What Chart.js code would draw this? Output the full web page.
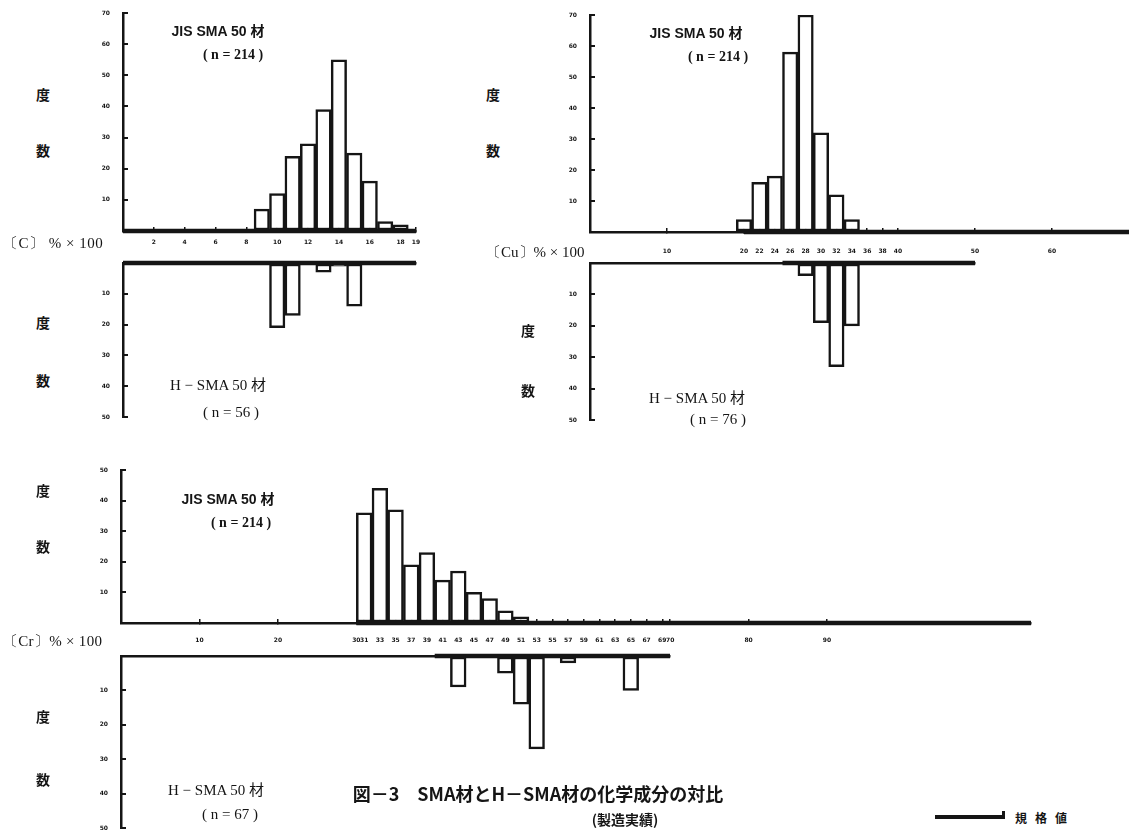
<!DOCTYPE html>
<html>
<head>
<meta charset="utf-8">
<script src="https://cdn.jsdelivr.net/npm/chart.js@4.4.0/dist/chart.umd.min.js"></script>
<style>
  html, body { margin: 0; padding: 0; background: #fff; overflow: hidden; }
  body { width: 1129px; height: 830px; position: relative; color: #151515; }
  canvas { position: absolute; }
  .t { position: absolute; white-space: nowrap; line-height: 1; transform: translate(-50%, -50%); }
  .l { position: absolute; white-space: nowrap; line-height: 1; transform: translate(0, -50%); }
  .jp { font-family: "Noto Sans CJK JP", sans-serif; font-weight: 700; }
  .sf { font-family: "Liberation Serif", serif; }
  .ss { font-family: "Liberation Sans", sans-serif; font-weight: 700; }
</style>
</head>
<body>
<canvas id="cUp"></canvas>
<canvas id="cDown"></canvas>
<canvas id="cuUp"></canvas>
<canvas id="cuDown"></canvas>
<canvas id="crUp"></canvas>
<canvas id="crDown"></canvas>

<script>
// [C] % x 100 : bins are 1 unit wide
const cBins = [9, 10, 11, 12, 13, 14, 15, 16, 17, 18];
const cJis  = [7, 12, 24, 28, 39, 55, 25, 16, 3, 2];   // JIS SMA 50 (n = 214)
const cHsma = [0, 21, 17, 0, 3, 1, 14, 0, 0, 0];       // H-SMA 50 (n = 56)
const cTicks = [2, 4, 6, 8, 10, 12, 14, 16, 18, 19];
const cSpecJis = [0, 19];
const cSpecH = [0, 19];

// [Cu] % x 100 : bins are 2 units wide
const cuBins = [20, 22, 24, 26, 28, 30, 32, 34];
const cuJis  = [4, 16, 18, 58, 70, 32, 12, 4];
const cuHsma = [0, 0, 0, 0, 4, 19, 33, 20];            // n = 76
const cuTicks = [10, 20, 22, 24, 26, 28, 30, 32, 34, 36, 38, 40, 50, 60];
const cuSpecJis = [20, 70];
const cuSpecH = [25, 50];

// [Cr] % x 100 : bins are 2 units wide
const crBins = [31, 33, 35, 37, 39, 41, 43, 45, 47, 49, 51, 53, 55, 57, 59, 61, 63, 65, 67, 69];
const crJis  = [36, 44, 37, 19, 23, 14, 17, 10, 8, 4, 2, 0, 0, 0, 0, 0, 0, 0, 0, 0];
const crHsma = [0, 0, 0, 0, 0, 0, 9, 0, 0, 5, 14, 27, 0, 2, 0, 0, 0, 10, 0, 0];  // n = 67
const crTicks = [10, 20, 30, 31, 33, 35, 37, 39, 41, 43, 45, 47, 49, 51, 53, 55, 57, 59,
                 61, 63, 65, 67, 69, 70, 80, 90];
const crSpecJis = [30, 116];
const crSpecH = [40, 70];

const ink = '#151515';
const tickFont = { family: 'DejaVu Sans', size: 6, weight: 'bold' };

// one histogram half; g = where the axes sit on the page
function hist(id, g, o) {
  const up = !o.down;
  // generous padding so Chart.js never has to shrink the plot for label overflow
  const yW = 34, padL = 2, padR = 30, padT = 26, padB = 26, xH = 30;
  const w = padL + yW + (g.right - g.axis) + padR;
  const h = up ? padT + (g.base - g.top) + xH : padT + (g.bottom - g.base) + padB;
  const cv = document.getElementById(id);
  cv.width = w; cv.height = h;
  cv.style.width = w + 'px'; cv.style.height = h + 'px';
  cv.style.left = (g.axis - yW - padL) + 'px';
  cv.style.top = ((up ? g.top : g.base) - padT) + 'px';

  return new Chart(cv, {
    type: 'bar',
    data: {
      datasets: [
        {
          type: 'line',
          data: o.spec.map(x => ({ x, y: 0 })),
          borderColor: ink,
          borderWidth: 4.5,
          pointRadius: 0,
          clip: false,
          order: 0
        },
        {
          type: 'bar',
          data: o.bins.map((x, i) => ({ x, y: o.counts[i] })),
          backgroundColor: '#fff',
          borderColor: ink,
          borderWidth: 2.5,
          borderSkipped: false,
          barThickness: 'flex',
          barPercentage: 1,
          categoryPercentage: 1,
          order: 1
        }
      ]
    },
    options: {
      responsive: false,
      animation: false,
      events: [],
      layout: { padding: { left: padL, right: padR, top: padT, bottom: up ? 0 : padB } },
      plugins: { legend: { display: false }, tooltip: { enabled: false } },
      scales: {
        x: {
          type: 'linear',
          position: up ? 'bottom' : 'top',
          offset: false,
          min: 0,
          max: o.xMax,
          // short tick marks pointing up into the plot
          grid: { display: up, drawOnChartArea: false, drawTicks: true, tickLength: -4,
                  offset: false, color: ink, lineWidth: 1.5 },
          border: { display: true, color: ink, width: 2.5 },
          ticks: {
            display: up,
            autoSkip: false,
            maxRotation: 0,
            padding: (o.lblPad || 0) + 4,
            color: ink,
            font: tickFont
          },
          afterBuildTicks: s => { s.ticks = (o.ticks || []).map(v => ({ value: v })); },
          afterFit: s => { s.height = up ? xH : 0; }
        },
        y: {
          min: 0,
          max: o.yMax,
          reverse: !up,
          // tick marks pointing right, into the plot
          grid: { drawOnChartArea: false, tickLength: -5, color: ink, lineWidth: 2 },
          border: { color: ink, width: 2.5 },
          ticks: {
            stepSize: 10,
            padding: 18,
            color: ink,
            font: tickFont,
            callback: v => (v === 0 ? '' : v)
          },
          afterFit: s => { s.width = yW; }
        }
      }
    }
  });
}

hist('cUp',   { axis: 123, right: 416, top: 13, base: 231 },
     { bins: cBins, counts: cJis, spec: cSpecJis, ticks: cTicks, xMax: 19, yMax: 70, lblPad: 8 });
hist('cDown', { axis: 123, right: 416, base: 263, bottom: 417 },
     { bins: cBins, counts: cHsma, spec: cSpecH, xMax: 19, yMax: 50, down: true });

hist('cuUp',   { axis: 590, right: 1129, top: 15, base: 232 },
     { bins: cuBins, counts: cuJis, spec: cuSpecJis, ticks: cuTicks, xMax: 70, yMax: 70, lblPad: 16 });
hist('cuDown', { axis: 590, right: 975, base: 263, bottom: 420 },
     { bins: cuBins, counts: cuHsma, spec: cuSpecH, xMax: 50, yMax: 50, down: true });

hist('crUp',   { axis: 121, right: 1031, top: 470, base: 623 },
     { bins: crBins, counts: crJis, spec: crSpecJis, ticks: crTicks, xMax: 116, yMax: 50, lblPad: 14 });
hist('crDown', { axis: 121, right: 670, base: 656, bottom: 828 },
     { bins: crBins, counts: crHsma, spec: crSpecH, xMax: 70, yMax: 50, down: true });
</script>

<!-- axis captions and notes -->
<div class="t jp" style="left:43px;top:94px;font-size:14px">度</div>
<div class="t jp" style="left:43px;top:150px;font-size:14px">数</div>
<div class="t jp" style="left:43px;top:322px;font-size:14px">度</div>
<div class="t jp" style="left:43px;top:380px;font-size:14px">数</div>
<div class="t jp" style="left:493px;top:94px;font-size:14px">度</div>
<div class="t jp" style="left:493px;top:150px;font-size:14px">数</div>
<div class="t jp" style="left:528px;top:330px;font-size:14px">度</div>
<div class="t jp" style="left:528px;top:390px;font-size:14px">数</div>
<div class="t jp" style="left:43px;top:490px;font-size:14px">度</div>
<div class="t jp" style="left:43px;top:546px;font-size:14px">数</div>
<div class="t jp" style="left:43px;top:716px;font-size:14px">度</div>
<div class="t jp" style="left:43px;top:779px;font-size:14px">数</div>

<div class="l sf" style="left:3px;top:243px;font-size:15px;letter-spacing:0.5px">〔C〕 % × 100</div>
<div class="l sf" style="left:486px;top:252px;font-size:15px">〔Cu〕% × 100</div>
<div class="l sf" style="left:3px;top:641px;font-size:15px;letter-spacing:0.3px">〔Cr〕% × 100</div>

<div class="t ss" style="left:218px;top:30px;font-size:14px">JIS SMA 50 <span class="jp">材</span></div>
<div class="t sf" style="left:233px;top:55px;font-size:14px;font-weight:700">( n = 214 )</div>
<div class="t sf" style="left:218px;top:384px;font-size:15px">H − SMA 50 <span class="jp" style="font-weight:400">材</span></div>
<div class="t sf" style="left:231px;top:412px;font-size:15px">( n = 56 )</div>

<div class="t ss" style="left:696px;top:32px;font-size:14px">JIS SMA 50 <span class="jp">材</span></div>
<div class="t sf" style="left:718px;top:57px;font-size:14px;font-weight:700">( n = 214 )</div>
<div class="t sf" style="left:697px;top:397px;font-size:15px">H − SMA 50 <span class="jp" style="font-weight:400">材</span></div>
<div class="t sf" style="left:718px;top:419px;font-size:15px">( n = 76 )</div>

<div class="t ss" style="left:228px;top:498px;font-size:14px">JIS SMA 50 <span class="jp">材</span></div>
<div class="t sf" style="left:241px;top:523px;font-size:14px;font-weight:700">( n = 214 )</div>
<div class="t sf" style="left:216px;top:789px;font-size:15px">H − SMA 50 <span class="jp" style="font-weight:400">材</span></div>
<div class="t sf" style="left:230px;top:814px;font-size:15px">( n = 67 )</div>

<!-- title and legend -->
<div class="t jp" style="left:538px;top:793px;font-size:18px">図－3　SMA材とH－SMA材の化学成分の対比</div>
<div class="t jp" style="left:625px;top:819px;font-size:14px">(製造実績)</div>
<div style="position:absolute;left:935px;top:815px;width:70px;height:4px;background:#151515"></div>
<div style="position:absolute;left:1002px;top:811px;width:3px;height:6px;background:#151515"></div>
<div class="t jp" style="left:1045px;top:818px;font-size:12px;letter-spacing:8px">規格値</div>
</body>
</html>
